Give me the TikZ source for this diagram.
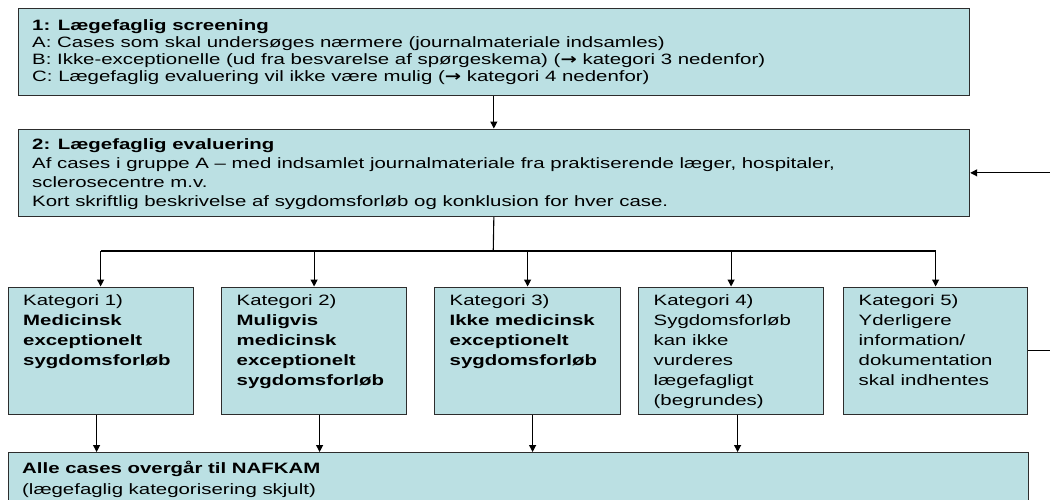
\documentclass[tikz,border=0pt]{standalone}
\usepackage{fontspec}
\setmainfont[FakeStretch=1.36]{Liberation Sans}
\newfontfamily\arrowfont[FakeStretch=1.3]{DejaVu Sans}
\usetikzlibrary{arrows.meta}
\definecolor{boxfill}{RGB}{187,224,227}
\definecolor{boxline}{RGB}{45,45,45}
\newcommand{\boxtext}[2]{\parbox[t]{900pt}{\fontsize{15}{#1}\selectfont\raggedright #2}}
\newcommand{\rarr}{{\arrowfont\bfseries →}}
\begin{document}
\begin{tikzpicture}[x=1pt,y=-1pt,
  box/.style={draw=boxline, line width=1.2pt, fill=boxfill, anchor=north west, inner sep=0pt},
  txt/.style={anchor=base west, inner sep=0pt},
  conn/.style={draw=black, line width=1.1pt},
  arr/.style={conn, -{Triangle[length=7pt,width=7pt]}},
  fork/.style={draw=black, line width=2pt}
]
\useasboundingbox (0,0) rectangle (1050,499);
\clip (0,0) rectangle (1050,499);

% boxes
\node[box, minimum width=951.5pt, minimum height=87.5pt] (b1) at (17.5,7.5) {};
\node[box, minimum width=951.5pt, minimum height=87.5pt] (b2) at (17.5,128.5) {};
\node[box, minimum width=185pt, minimum height=127.5pt] (k1) at (7.5,286.5) {};
\node[box, minimum width=185pt, minimum height=127.5pt] (k2) at (221,286.5) {};
\node[box, minimum width=186pt, minimum height=127.5pt] (k3) at (434,286.5) {};
\node[box, minimum width=185pt, minimum height=127.5pt] (k4) at (638,286.5) {};
\node[box, minimum width=184pt, minimum height=127.5pt] (k5) at (843,286.5) {};
\node[box, minimum width=1020pt, minimum height=80pt] (bot) at (8,452) {};

% texts
\node[txt] (b1t) at ([shift={(14.5pt,-22.5pt)}]b1.north west) {\boxtext{17pt}{\textbf{1: Lægefaglig screening}\\
A: Cases som skal undersøges nærmere (journalmateriale indsamles)\\
B: Ikke-exceptionelle (ud fra besvarelse af spørgeskema) (\rarr{} kategori 3 nedenfor)\\
C: Lægefaglig evaluering vil ikke være mulig (\rarr{} kategori 4 nedenfor)}};

\node[txt] (b2t) at ([shift={(14.5pt,-20.5pt)}]b2.north west) {\boxtext{19.1pt}{\textbf{2: Lægefaglig evaluering}\\
Af cases i gruppe A – med indsamlet journalmateriale fra praktiserende læger, hospitaler,\\
sclerosecentre m.v.\\
Kort skriftlig beskrivelse af sygdomsforløb og konklusion for hver case.}};

\node[txt] (k1t) at ([shift={(15.5pt,-19.2pt)}]k1.north west) {\boxtext{20pt}{Kategori 1)\\\textbf{Medicinsk}\\\textbf{exceptionelt}\\\textbf{sygdomsforløb}}};
\node[txt] (k2t) at ([shift={(15.5pt,-19.2pt)}]k2.north west) {\boxtext{20pt}{Kategori 2)\\\textbf{Muligvis}\\\textbf{medicinsk}\\\textbf{exceptionelt}\\\textbf{sygdomsforløb}}};
\node[txt] (k3t) at ([shift={(15.5pt,-19.2pt)}]k3.north west) {\boxtext{20pt}{Kategori 3)\\\textbf{Ikke medicinsk}\\\textbf{exceptionelt}\\\textbf{sygdomsforløb}}};
\node[txt] (k4t) at ([shift={(15.5pt,-19.2pt)}]k4.north west) {\boxtext{20pt}{Kategori 4)\\Sygdomsforløb\\kan ikke\\vurderes\\lægefagligt\\(begrundes)}};
\node[txt] (k5t) at ([shift={(15.5pt,-19.2pt)}]k5.north west) {\boxtext{20pt}{Kategori 5)\\Yderligere\\information/\\dokumentation\\skal indhentes}};

\node[txt] (bott) at ([shift={(14pt,-21pt)}]bot.north west) {\boxtext{21pt}{\textbf{Alle cases overgår til NAFKAM}\\(lægefaglig kategorisering skjult)}};

% connectors
\draw[arr] (b1.south) -- (b2.north);
\coordinate (forkpt) at (493.25,251);
\draw[conn] (b2.south) -- (forkpt);
\draw[fork] (k1.north |- forkpt) -- (k5.north |- forkpt);
\foreach \k in {k1,k2,k3,k4,k5} {
  \draw[arr] (\k.north |- forkpt) -- (\k.north);
}
\draw[arr] ([xshift=-4pt]k1.south) -- ([xshift=-4pt]k1.south |- bot.north);
\draw[arr] ([xshift=5.5pt]k2.south) -- ([xshift=5.5pt]k2.south |- bot.north);
\draw[arr] ([xshift=5pt]k3.south) -- ([xshift=5pt]k3.south |- bot.north);
\draw[arr] ([xshift=6.5pt]k4.south) -- ([xshift=6.5pt]k4.south |- bot.north);

\coordinate (loop) at (1075,0);
\draw[arr] (k5.east) -- (k5.east -| loop) -- (b2.east -| loop) -- (b2.east);
\end{tikzpicture}
\end{document}
